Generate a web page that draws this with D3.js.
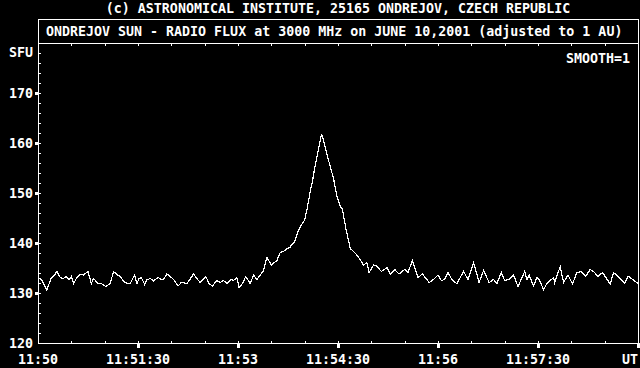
<!DOCTYPE html>
<html>
<head>
<meta charset="utf-8">
<script src="https://d3js.org/d3.v7.min.js"></script>
<style>
  body { margin: 0; background: #000; }
  svg { display: block; background: #000; }
  text {
    font-family: "DejaVu Sans Mono", "Liberation Mono", monospace;
    font-size: 13.3px;
    font-weight: bold;
    fill: #fff;
  }
</style>
</head>
<body>
<svg id="chart" width="640" height="368"></svg>
<script>
const topLine = "(c) ASTRONOMICAL INSTITUTE, 25165 ONDREJOV, CZECH REPUBLIC";
const titleLine = "ONDREJOV SUN - RADIO FLUX at 3000 MHz on JUNE 10,2001 (adjusted to 1 AU)";
const smoothLabel = "SMOOTH=1";
const yUnit = "SFU";
const xUnit = "UT";

const xTickSecs = [0, 90, 180, 270, 360, 450];
const xTickLabels = ["11:50", "11:51:30", "11:53", "11:54:30", "11:56", "11:57:30"];
const yTickValues = [120, 130, 140, 150, 160, 170];

// seconds after 11:50:00 UT
const times = [0, 3, 8, 12, 14, 17, 20, 23, 25, 28, 30, 32, 35, 38, 41, 45, 48, 50, 54, 57,
  61, 65, 68, 71, 74, 78, 81, 83, 87, 89, 91, 93, 96, 98, 101, 104, 108, 111, 113, 116,
  119, 122, 126, 129, 134, 137, 140, 143, 146, 151, 154, 157, 161, 164, 167, 170, 174, 176, 179, 181,
  184, 187, 191, 194, 197, 200, 203, 206, 210, 215, 218, 221, 224, 227, 228, 231, 234, 237, 240, 242,
  245, 247, 249, 252, 255, 256, 259, 263, 266, 269, 272, 274, 277, 281, 285, 288, 293, 296, 298, 302,
  305, 309, 311, 314, 317, 321, 325, 330, 333, 337, 342, 346, 352, 356, 360, 363, 366, 369, 373, 377,
  383, 387, 392, 397, 401, 406, 410, 413, 417, 420, 424, 428, 432, 438, 440, 442, 446, 449, 451, 455,
  458, 464, 465, 470, 473, 477, 481, 485, 489, 493, 497, 500, 504, 508, 515, 518, 524, 528, 531, 536,
  540];
const flux = [133.1, 132.7, 130.6, 133.1, 133.3, 134.3, 133.1, 132.9, 133.3, 132.7, 133.3, 131.9, 133.1, 133.7, 133.6, 134.3, 131.9, 132.9, 131.9, 131.9,
  131.3, 131.9, 134.3, 133.7, 133.3, 132.1, 131.9, 131.9, 133.6, 131.9, 132.9, 133.1, 131.7, 132.6, 132.9, 132.4, 133.1, 132.7, 132.7, 133.8,
  133.3, 132.7, 131.4, 132.1, 131.9, 132.8, 133.8, 132.9, 132.1, 133.3, 131.9, 131.4, 132.5, 132.1, 132.5, 131.9, 132.7, 132.5, 133.1, 131.1,
  131.9, 133.3, 131.9, 133.6, 132.7, 133.6, 134.5, 137.1, 135.6, 136.5, 138.1, 138.3, 138.9, 139.1, 139.6, 140.3, 142.3, 143.6, 144.6, 146.6,
  150.3, 152.3, 155.0, 158.3, 161.6, 161.4, 158.6, 155.3, 152.9, 149.3, 147.4, 146.7, 143.0, 138.9, 138.1, 137.3, 135.6, 136.1, 134.1, 135.6,
  135.4, 134.3, 134.6, 135.1, 133.8, 134.7, 133.8, 134.7, 134.1, 136.5, 133.1, 133.8, 132.1, 132.7, 133.6, 132.5, 132.7, 134.1, 132.5, 131.9,
  134.3, 132.7, 136.1, 132.1, 134.5, 132.1, 132.7, 131.9, 134.1, 132.5, 132.7, 133.6, 131.3, 134.3, 132.7, 133.6, 131.4, 133.1, 132.7, 130.7,
  131.9, 133.1, 132.1, 135.3, 132.1, 133.6, 131.8, 134.1, 134.3, 133.4, 134.7, 134.3, 133.3, 134.1, 131.8, 134.1, 132.9, 131.9, 133.4, 132.6,
  131.9];

const svg = d3.select("#chart");
const plotLeft = 38, plotRight = 638, plotTop = 43, plotBottom = 343;

const x = d3.scaleLinear().domain([0, 540]).range([plotLeft, plotRight]);
const y = d3.scaleLinear().domain([120, 180]).range([plotBottom, plotTop]);
const px = v => Math.round(v) + 0.5;

const g = svg.append("g")
  .attr("stroke", "#fff")
  .attr("fill", "none")
  .attr("shape-rendering", "crispEdges");

// title box + frame
g.append("rect").attr("x", px(plotLeft)).attr("y", 19.5).attr("width", plotRight - plotLeft).attr("height", 24);
g.append("line").attr("x1", px(plotLeft)).attr("x2", px(plotLeft)).attr("y1", plotTop).attr("y2", plotBottom + 1);
g.append("line").attr("x1", px(plotRight)).attr("x2", px(plotRight)).attr("y1", plotTop).attr("y2", plotBottom + 1);
g.append("line").attr("x1", plotLeft).attr("x2", plotRight + 1).attr("y1", px(plotBottom)).attr("y2", px(plotBottom));

// y ticks: minor every 2 SFU inside, major boxes outside
g.selectAll("line.ymin").data(d3.range(122, 180, 2)).join("line")
  .attr("class", "ymin")
  .attr("x1", plotLeft).attr("x2", plotLeft + 3)
  .attr("y1", d => px(y(d))).attr("y2", d => px(y(d)));
svg.selectAll("rect.ymaj").data(yTickValues.slice(1)).join("rect")
  .attr("class", "ymaj")
  .attr("x", plotLeft - 3).attr("width", 3)
  .attr("y", d => Math.round(y(d)) - 1).attr("height", 3)
  .attr("fill", "#fff");

// x ticks: minor every 30 s top and bottom, major every 90 s below axis
g.selectAll("line.xminb").data(d3.range(30, 540, 30)).join("line")
  .attr("class", "xminb")
  .attr("x1", d => px(x(d))).attr("x2", d => px(x(d)))
  .attr("y1", plotBottom - 2).attr("y2", plotBottom);
g.selectAll("line.xmint").data(d3.range(30, 540, 30)).join("line")
  .attr("class", "xmint")
  .attr("x1", d => px(x(d))).attr("x2", d => px(x(d)))
  .attr("y1", plotTop + 1).attr("y2", plotTop + 3);
svg.selectAll("rect.xmaj").data(d3.range(90, 541, 90)).join("rect")
  .attr("class", "xmaj")
  .attr("x", d => Math.round(x(d)) - 1).attr("width", 3)
  .attr("y", plotBottom).attr("height", 5)
  .attr("fill", "#fff");

// flux curve
const line = d3.line().x((d, i) => x(times[i])).y(d => y(d));
svg.append("path")
  .datum(flux)
  .attr("d", line)
  .attr("fill", "none")
  .attr("stroke", "#fff")
  .attr("stroke-width", 1.2)
  .attr("shape-rendering", "crispEdges");

// texts
svg.append("text").attr("x", (plotLeft + plotRight) / 2).attr("y", 13).attr("text-anchor", "middle").text(topLine);
svg.append("text").attr("x", 46).attr("y", 36).text(titleLine);
svg.append("text").attr("x", 630).attr("y", 63).attr("text-anchor", "end").text(smoothLabel);

svg.selectAll("text.ylab").data(yTickValues).join("text")
  .attr("class", "ylab")
  .attr("x", 33).attr("y", d => y(d) + 5)
  .attr("text-anchor", "end")
  .text(d => d);
svg.append("text").attr("x", 33).attr("y", y(178) + 4).attr("text-anchor", "end").text(yUnit);

svg.selectAll("text.xlab").data(xTickSecs).join("text")
  .attr("class", "xlab")
  .attr("x", d => x(d)).attr("y", 364)
  .attr("text-anchor", "middle")
  .text((d, i) => xTickLabels[i]);
svg.append("text").attr("x", plotRight).attr("y", 364).attr("text-anchor", "end").text(xUnit);
</script>
</body>
</html>
